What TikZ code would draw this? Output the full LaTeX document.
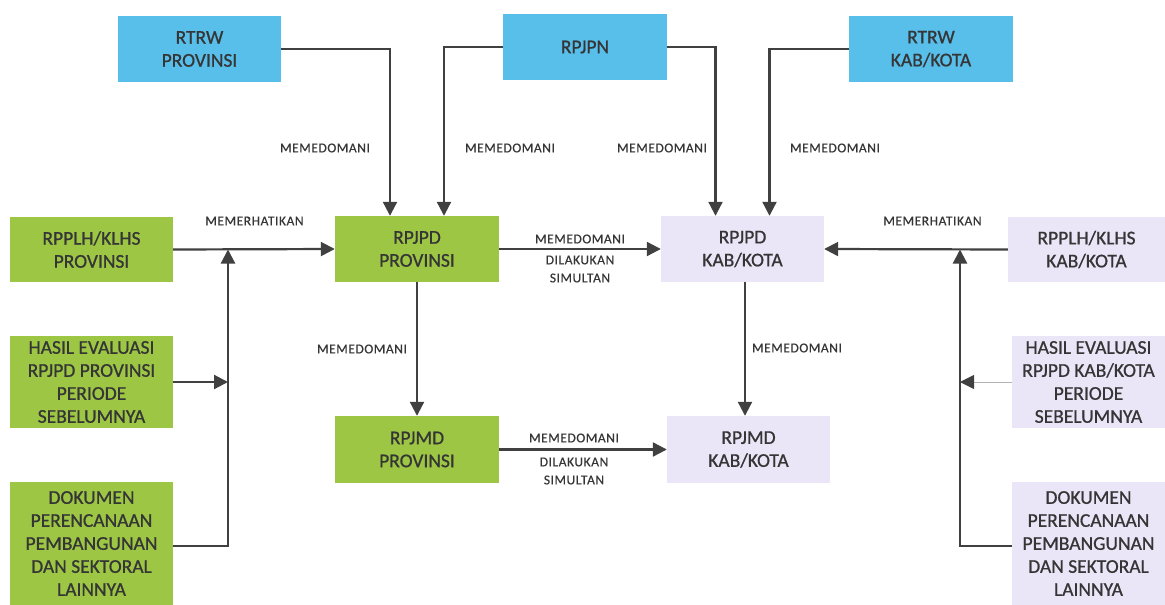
\documentclass[tikz,border=0pt]{standalone}
\usepackage{fontspec}
\setmainfont{Carlito}
\newfontfamily\boxfont[FakeBold=0.8]{Carlito}
\newfontfamily\labfont[LetterSpace=4,FakeBold=0.4]{Carlito}
\usetikzlibrary{arrows.meta,calc}
\definecolor{bblue}{HTML}{58BEEA}
\definecolor{bgreen}{HTML}{9DC645}
\definecolor{blav}{HTML}{EAE6F8}
\definecolor{tgray}{HTML}{353535}
\definecolor{agray}{HTML}{404040}
\begin{document}
\begin{tikzpicture}[x=1pt,y=-1pt,
  box/.style={inner sep=0pt, align=center, text=tgray, font=\boxfont\fontsize{19.5}{23}\selectfont},
  bluebox/.style={box, fill=bblue},
  greenbox/.style={box, fill=bgreen},
  lavbox/.style={box, fill=blav},
  lab/.style={inner sep=0pt, text=tgray, font=\labfont\fontsize{13.5}{16}\selectfont},
  arr/.style={draw=agray, line width=2.2pt, -{Triangle[length=14pt,width=14pt]}},
  thinarr/.style={draw=gray!60, line width=1pt, -{Triangle[length=14pt,width=14pt,color=agray,fill=agray]}}
]
\useasboundingbox (0,0) rectangle (1165,605);
\fill[white] (0,0) rectangle (1165,605);

% top row
\node[bluebox, minimum width=163pt, minimum height=66pt] (rtrwp) at (199.5,49) {RTRW\\PROVINSI};
\node[bluebox, minimum width=164pt, minimum height=66pt] (rpjpn) at (585,47) {RPJPN};
\node[bluebox, minimum width=164pt, minimum height=66pt] (rtrwk) at (931,49) {RTRW\\KAB/KOTA};

% middle row
\node[greenbox, minimum width=163pt, minimum height=65pt] (rpplhp) at (91.5,249.5) {RPPLH/KLHS\\PROVINSI};
\node[greenbox, minimum width=164pt, minimum height=66pt] (rpjpdp) at (417,249) {RPJPD\\PROVINSI};
\node[lavbox, minimum width=163pt, minimum height=66pt] (rpjpdk) at (742.5,249) {RPJPD\\KAB/KOTA};
\node[lavbox, minimum width=157pt, minimum height=65pt] (rpplhk) at (1086.5,249.5) {RPPLH/KLHS\\KAB/KOTA};

% lower boxes
\node[greenbox, minimum width=163pt, minimum height=92pt] (hasilp) at (91.5,382) {HASIL EVALUASI\\RPJPD PROVINSI\\PERIODE\\SEBELUMNYA};
\node[greenbox, minimum width=163pt, minimum height=123pt] (dokp) at (91.5,543.5) {DOKUMEN\\PERENCANAAN\\PEMBANGUNAN\\DAN SEKTORAL\\LAINNYA};
\node[greenbox, minimum width=164pt, minimum height=67pt] (rpjmdp) at (417,449.5) {RPJMD\\PROVINSI};
\node[lavbox, minimum width=163pt, minimum height=67pt] (rpjmdk) at (748.5,449.5) {RPJMD\\KAB/KOTA};
\node[lavbox, minimum width=153pt, minimum height=92pt] (hasilk) at (1088.5,382) {HASIL EVALUASI\\RPJPD KAB/KOTA\\PERIODE\\SEBELUMNYA};
\node[lavbox, minimum width=153pt, minimum height=123pt] (dokk) at (1088.5,543.5) {DOKUMEN\\PERENCANAAN\\PEMBANGUNAN\\DAN SEKTORAL\\LAINNYA};

% junction points
\coordinate (jp) at (228,249.5);
\coordinate (jk) at (960,249.5);

% arrows from top
\draw[arr] (rtrwp.east) -| ([xshift=-27pt]rpjpdp.north);
\draw[arr] (rpjpn.west) -| ([xshift=27pt]rpjpdp.north);
\draw[arr] (rpjpn.east) -| ([xshift=-27pt]rpjpdk.north);
\draw[arr] (rtrwk.west) -| ([xshift=27pt]rpjpdk.north);

% left inputs
\draw[arr] (rpplhp.east) -- (rpjpdp.west);
\draw[arr] (hasilp.east) -- (hasilp.east -| jp);
\draw[arr] ([yshift=-2.5pt]dokp.east) -| (jp);

% right inputs
\draw[arr] (rpplhk.west) -- (rpjpdk.east);
\draw[thinarr] (hasilk.west) -- (hasilk.west -| jk);
\draw[arr] ([yshift=-2.5pt]dokk.west) -| (jk);

% central arrows
\draw[arr] (rpjpdp.east) -- (rpjpdk.west);
\draw[arr] (rpjpdp.south) -- (rpjmdp.north);
\draw[arr] ([xshift=2.5pt]rpjpdk.south) -- ([xshift=2.5pt]rpjpdk.south |- rpjmdk.north);
\draw[arr] (rpjmdp.east) -- (rpjmdk.west);

% labels
\node[lab] (l1) at (325,148) {MEMEDOMANI};
\node[lab] (l2) at (510,148) {MEMEDOMANI};
\node[lab] (l3) at (662,148) {MEMEDOMANI};
\node[lab] (l4) at (835,148) {MEMEDOMANI};
\node[lab] (l5) at (254.5,221) {MEMERHATIKAN};
\node[lab] (l6) at (932.5,221) {MEMERHATIKAN};
\node[lab] (l7) at (580,239) {MEMEDOMANI};
\node[lab] (l8) at (580,260) {DILAKUKAN};
\node[lab] (l9) at (580,278) {SIMULTAN};
\node[lab] (l10) at (574,438) {MEMEDOMANI};
\node[lab] (l11) at (574,462) {DILAKUKAN};
\node[lab] (l12) at (574,480) {SIMULTAN};
\node[lab] (l13) at (362,349) {MEMEDOMANI};
\node[lab] (l14) at (797,348) {MEMEDOMANI};
\end{tikzpicture}
\end{document}
